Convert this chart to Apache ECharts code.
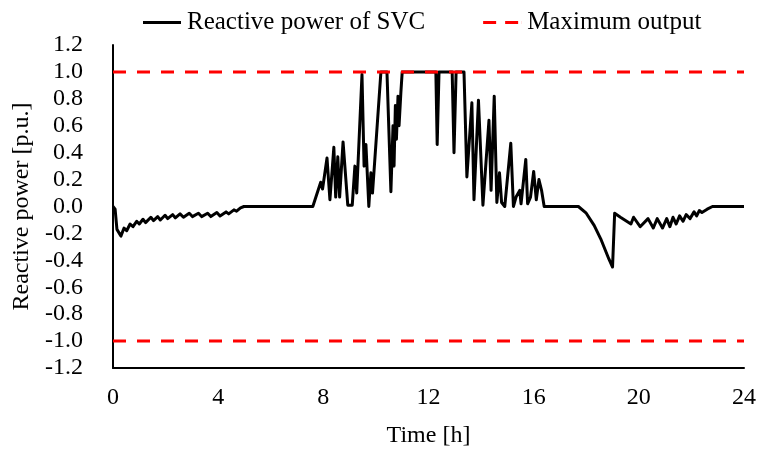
<!DOCTYPE html>
<html>
<head>
<meta charset="utf-8">
<script src="https://cdn.jsdelivr.net/npm/echarts@6/dist/echarts.min.js"></script>
<style>
  html, body { margin: 0; padding: 0; background: #fff; }
  #chart { width: 762px; height: 453px; }
</style>
</head>
<body>
<div id="chart"></div>
<script>
// SVC reactive power over one day, [hour, p.u.]
const svcNight = [
  [0, 0.0], [0.08, -0.02], [0.15, -0.17], [0.3, -0.22], [0.42, -0.16], [0.52, -0.18],
  [0.65, -0.13], [0.76, -0.15], [0.9, -0.11], [1.0, -0.13], [1.14, -0.095], [1.24, -0.12],
  [1.44, -0.08], [1.54, -0.105], [1.7, -0.075], [1.8, -0.1], [1.98, -0.065], [2.08, -0.09],
  [2.27, -0.06], [2.37, -0.085], [2.55, -0.055], [2.68, -0.08], [2.9, -0.05], [3.02, -0.075],
  [3.25, -0.05], [3.37, -0.075], [3.6, -0.05], [3.72, -0.075], [3.95, -0.045], [4.07, -0.07],
  [4.3, -0.04], [4.4, -0.055], [4.6, -0.025], [4.7, -0.035], [4.85, -0.01], [4.98, 0.0]
];
const svcMorning = [
  [7.6, 0.0], [7.9, 0.18], [7.97, 0.13], [8.14, 0.36], [8.25, 0.05], [8.4, 0.44],
  [8.47, 0.07], [8.55, 0.37], [8.62, 0.07], [8.75, 0.48], [8.93, 0.01], [9.1, 0.01],
  [9.2, 0.30], [9.27, 0.1], [9.47, 0.98], [9.55, 0.3], [9.62, 0.46], [9.73, 0.0],
  [9.81, 0.25], [9.87, 0.1], [10.19, 1.0], [10.42, 1.0], [10.57, 0.11], [10.65, 0.6],
  [10.69, 0.3], [10.74, 0.75], [10.78, 0.5], [10.84, 0.82], [10.88, 0.6], [10.95, 0.85],
  [11.0, 1.0]
];
const svcAfternoon = [
  [12.28, 1.0], [12.33, 0.46], [12.4, 1.0], [12.9, 1.0], [12.97, 0.40], [13.05, 1.0],
  [13.35, 1.0], [13.46, 0.22], [13.65, 0.77], [13.73, 0.05], [13.9, 0.79], [14.07, 0.01],
  [14.3, 0.64], [14.38, 0.12], [14.5, 0.82], [14.6, 0.03], [14.7, 0.25], [14.78, 0.03],
  [14.9, 0.0], [15.13, 0.47], [15.23, 0.0], [15.33, 0.07], [15.47, 0.12], [15.52, 0.02],
  [15.7, 0.35], [15.77, 0.02], [15.88, 0.07], [16.0, 0.26], [16.1, 0.05], [16.2, 0.2],
  [16.3, 0.12], [16.4, 0.0]
];
const svcEvening = [
  [17.7, 0.0], [18.0, -0.05], [18.3, -0.14], [18.55, -0.24], [18.86, -0.39], [19.0, -0.45],
  [19.08, -0.05], [19.3, -0.08], [19.7, -0.13], [19.8, -0.08], [20.05, -0.15], [20.35, -0.09],
  [20.55, -0.16], [20.7, -0.09], [20.9, -0.16], [21.06, -0.09], [21.18, -0.15], [21.3, -0.08],
  [21.42, -0.13], [21.55, -0.07], [21.68, -0.11], [21.8, -0.06], [21.95, -0.09], [22.1, -0.04],
  [22.2, -0.07], [22.3, -0.03], [22.4, -0.045], [22.6, -0.02], [22.8, 0.0], [24, 0.0]
];
const upperLimit = 1.0;
const lowerLimit = -1.0;
const xTicks = [0, 4, 8, 12, 16, 20, 24];
const yRange = [-1.2, 1.2];

const svcData = [].concat(svcNight, svcMorning, svcAfternoon, svcEvening);
const font = 'Liberation Serif';
const fontSize = 24;

// legend keys: a solid bar and a two-dash bar
const solidKey = 'path://M0,0H38V3H0Z';
const dashKey = 'path://M0,0H13V3H0Z M22,0H35V3H22Z M37.9,0H38V3H37.9Z';

const chart = echarts.init(document.getElementById('chart'), null, { renderer: 'canvas' });
chart.setOption({
  animation: false,
  backgroundColor: '#fff',
  textStyle: { fontFamily: font, color: '#000' },
  legend: {
    top: 10,
    left: 143,
    padding: 0,
    itemWidth: 38,
    itemHeight: 3,
    itemGap: 58,
    textStyle: { fontFamily: font, fontSize: 25, color: '#000', padding: [0, 0, 0, 1] },
    data: [
      { name: 'Reactive power of SVC', icon: solidKey, itemStyle: { color: '#000' } },
      { name: 'Maximum output', icon: dashKey, itemStyle: { color: '#ff0000' } }
    ]
  },
  grid: { left: 113, right: 18, top: 45, bottom: 81 },
  xAxis: {
    type: 'value',
    min: xTicks[0],
    max: xTicks[xTicks.length - 1],
    interval: 4,
    name: 'Time [h]',
    nameLocation: 'middle',
    nameGap: 56,
    nameTextStyle: { fontFamily: font, fontSize: fontSize, color: '#000' },
    axisLine: { onZero: false, lineStyle: { color: '#000', width: 2 } },
    axisTick: { show: false },
    splitLine: { show: false },
    axisLabel: { fontFamily: font, fontSize: fontSize, color: '#000', margin: 18 }
  },
  yAxis: {
    type: 'value',
    min: yRange[0],
    max: yRange[1],
    interval: 0.2,
    name: 'Reactive power [p.u.]',
    nameLocation: 'middle',
    nameGap: 77,
    nameTextStyle: { fontFamily: font, fontSize: fontSize, color: '#000' },
    axisLine: { show: true, lineStyle: { color: '#000', width: 2 } },
    axisTick: { show: false },
    splitLine: { show: false },
    axisLabel: {
      fontFamily: font, fontSize: fontSize, color: '#000', margin: 30,
      formatter: v => (Math.abs(v) < 1e-9 ? 0 : v).toFixed(1)
    }
  },
  series: [
    {
      name: 'Maximum output',
      type: 'line',
      symbol: 'none',
      data: [[xTicks[0], upperLimit], [xTicks[xTicks.length - 1], upperLimit]],
      lineStyle: { color: '#ff0000', width: 3, type: [13, 11] },
      itemStyle: { color: '#ff0000' },
      z: 3
    },
    {
      name: 'Maximum output',
      type: 'line',
      symbol: 'none',
      data: [[xTicks[0], lowerLimit], [xTicks[xTicks.length - 1], lowerLimit]],
      lineStyle: { color: '#ff0000', width: 3, type: [13, 11] },
      itemStyle: { color: '#ff0000' },
      z: 3
    },
    {
      name: 'Reactive power of SVC',
      type: 'line',
      symbol: 'none',
      data: svcData,
      lineStyle: { color: '#000', width: 3, join: 'round' },
      itemStyle: { color: '#000' },
      z: 2
    }
  ]
});
</script>
</body>
</html>
